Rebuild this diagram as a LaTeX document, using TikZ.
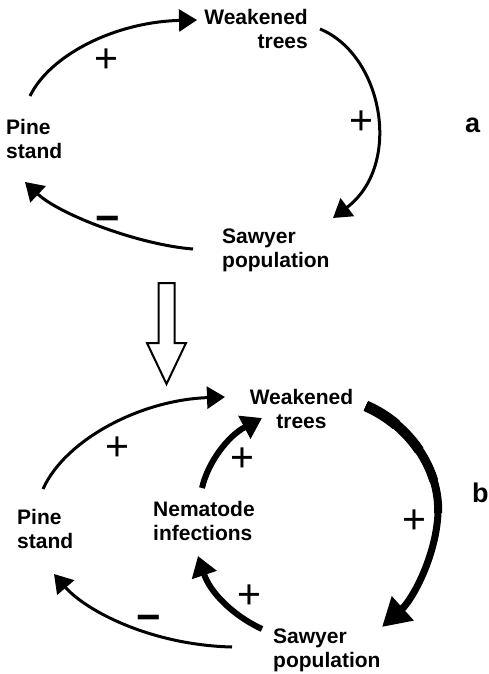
\documentclass[tikz,border=0pt]{standalone}
\usepackage{fontspec}
\setmainfont{Liberation Sans}
\usetikzlibrary{arrows.meta}
\begin{document}
\begin{tikzpicture}[x=1pt,y=-1pt,
  label text/.style={font=\bfseries\fontsize{21}{24}\selectfont, inner sep=0pt},
  panel tag/.style={font=\bfseries\fontsize{27}{27}\selectfont, inner sep=0pt, anchor=base west},
  plus sign/.style={font=\fontsize{41}{41}\selectfont, inner sep=0pt, anchor=base},
  minus sign/.style={font=\bfseries\fontsize{42}{42}\selectfont, inner sep=0pt, anchor=base},
  link/.style={line width=3pt, -{Triangle[length=18pt,width=22pt]}},
  heavy/.style={line width=6pt, -{Triangle[length=20pt,width=25pt]}},
  heaviest/.style={line width=7pt, -{Triangle[length=28pt,width=31pt]}},
]
\useasboundingbox (0,0) rectangle (488,674);

% ---------- loop a ----------
\node[label text, anchor=north east, align=right] (wa) at (308,9) {Weakened\\trees};
\node[label text, anchor=north west, align=left] (pa) at (6,119) {Pine\\stand};
\node[label text, anchor=north west, align=left] (sa) at (222,229) {Sawyer\\population};
\node[panel tag] (tag-a) at (465,132) {a};

\coordinate (pa-out) at (30,96);
\coordinate (wa-in) at (197,20);
\coordinate (wa-out) at (320,29);
\coordinate (sa-in) at (333,218);
\coordinate (sa-out) at (193,249);
\coordinate (pa-in) at (25,182);

\draw[link] (pa-out) .. controls (50,55) and (115,22) .. (wa-in);
\draw[link] (wa-out) .. controls (383,55) and (403,165) .. (sa-in);
\draw[link] (sa-out) .. controls (140,245) and (60,215) .. (pa-in);

\node[plus sign] (sg-a1) at (106.5,73) {+};
\node[plus sign] (sg-a2) at (361,135) {+};
\node[minus sign] (sg-a3) at (107.5,232.5) {−};

% ---------- transition arrow ----------
\draw[line width=2pt, fill=white] (158.5,283) -- (174.5,283) -- (174.5,343)
  -- (186,343) -- (166.5,384) -- (147,343) -- (158.5,343) -- cycle;

% ---------- loop b ----------
\node[label text, anchor=north, align=center] (wb) at (301.5,389) {Weakened\\trees};
\node[label text, anchor=north west, align=left] (pb) at (17,509) {Pine\\stand};
\node[label text, anchor=north west, align=left] (nb) at (153,501) {Nematode\\infections};
\node[label text, anchor=north west, align=left] (sb) at (273,629) {Sawyer\\population};
\node[panel tag] (tag-b) at (472,502) {b};

\coordinate (pb-out) at (43,489);
\coordinate (wb-in1) at (225,397);
\coordinate (nb-out) at (202,488);
\coordinate (wb-in2) at (262,418);
\coordinate (wb-out) at (366,406);
\coordinate (wb-q1) at (396.09,424.69);
\coordinate (wb-q2) at (419.25,450.5);
\coordinate (wb-q3) at (433.78,480.81);
\coordinate (wb-mid) at (438,513);
\coordinate (sb-in) at (382,627);
\coordinate (sb-out1) at (262,629);
\coordinate (nb-in) at (198,556);
\coordinate (sb-out2) at (232,647);
\coordinate (pb-in) at (54,574);

\draw[link] (pb-out) .. controls (65,440) and (140,400) .. (wb-in1);
\draw[heavy] (nb-out) .. controls (208,462) and (228,436) .. (wb-in2);

% stroke from weakened trees to sawyer population, thinning towards its tip
\draw[heaviest] (wb-out) .. controls (410,425) and (440,470) .. (wb-mid)
  .. controls (436,557) and (412,600) .. (sb-in);
\draw[line width=8pt] (wb-out) .. controls (410,425) and (440,470) .. (wb-mid);
\draw[line width=9pt] (wb-out) .. controls (388,415.5) and (406.5,431.5) .. (wb-q2)
  .. controls (425.625,460) and (430.5625,470.25) .. (wb-q3);
\draw[line width=10pt] (wb-out) .. controls (388,415.5) and (406.5,431.5) .. (wb-q2);
\draw[line width=11pt] (wb-out) .. controls (377,410.75) and (387.125,417.125) .. (wb-q1);

\draw[heavy] (sb-out1) .. controls (232,615) and (210,592) .. (nb-in);
\draw[link] (sb-out2) .. controls (150,645) and (85,610) .. (pb-in);

\node[plus sign] (sg-b1) at (117,460) {+};
\node[plus sign] (sg-b2) at (242,471) {+};
\node[plus sign] (sg-b3) at (414,533) {+};
\node[plus sign] (sg-b4) at (249,608) {+};
\node[minus sign] (sg-b5) at (148.5,631) {−};
\end{tikzpicture}
\end{document}
